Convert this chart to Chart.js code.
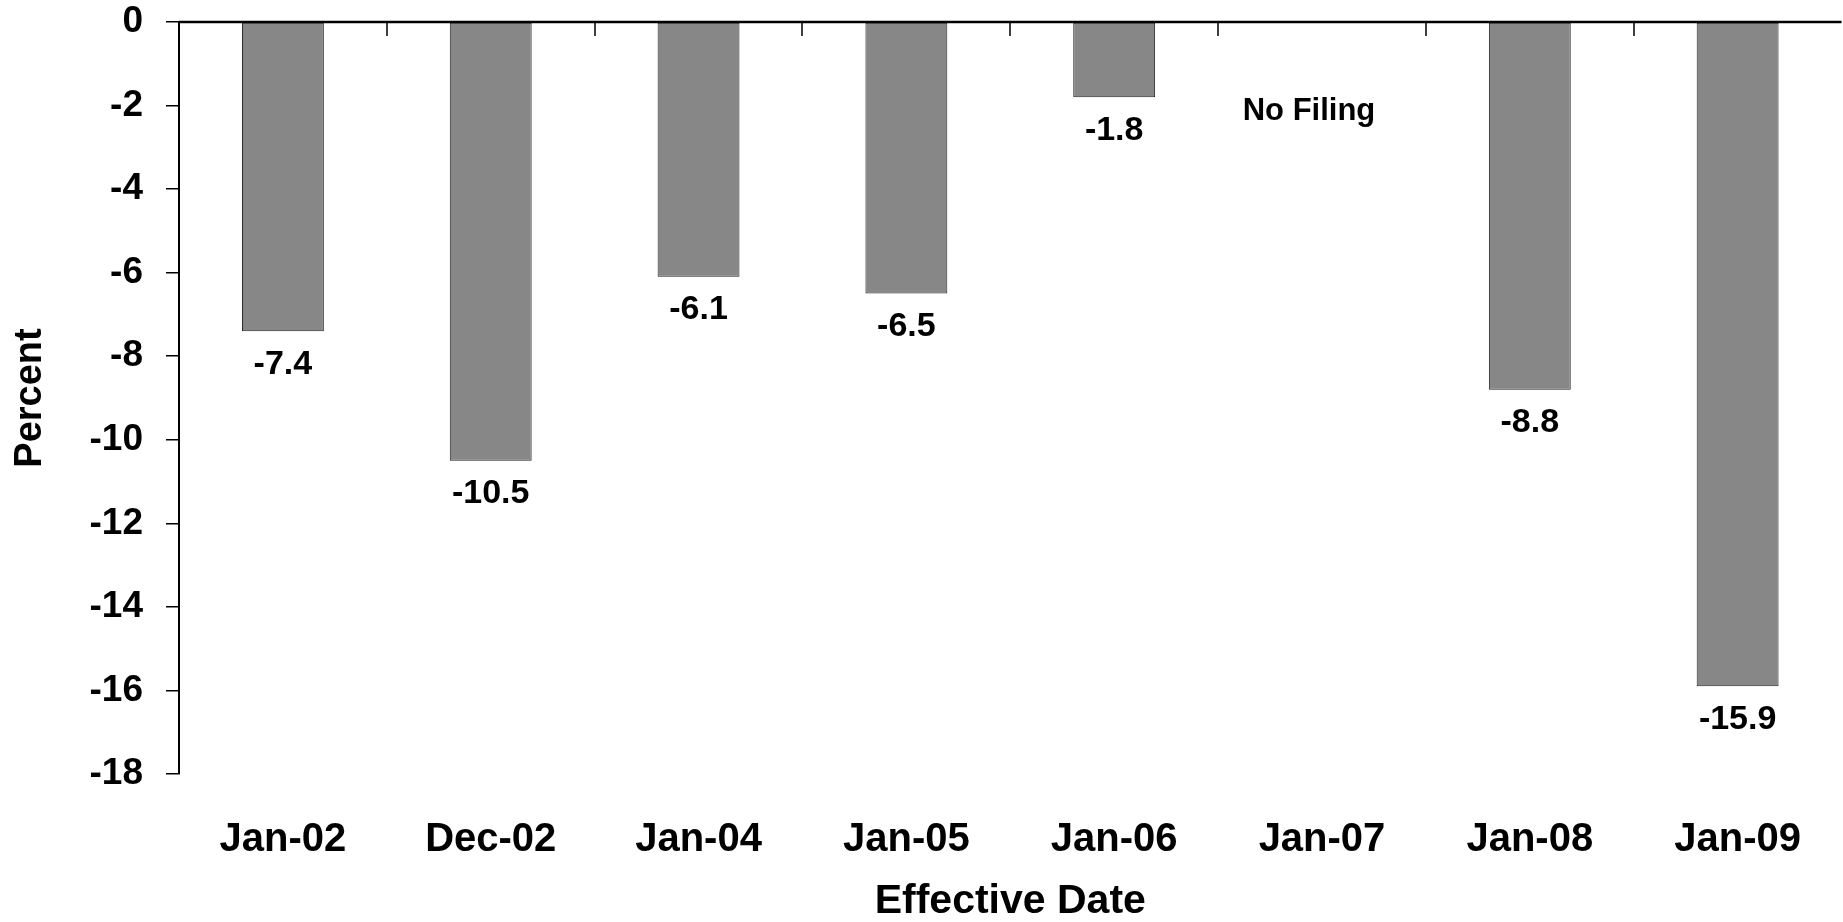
<!DOCTYPE html>
<html>
<head>
<meta charset="utf-8">
<title>Effective Date</title>
<script src="https://cdn.jsdelivr.net/npm/chart.js@4.4.1/dist/chart.umd.min.js"></script>
<style>
  html, body { margin: 0; padding: 0; background: #fff; }
  #wrap { width: 1843px; height: 922px; }
</style>
</head>
<body>
<div id="wrap"><canvas id="rateChart"></canvas></div>
<script>
// Rate change (percent) at each effective date
const categories = ['Jan-02', 'Dec-02', 'Jan-04', 'Jan-05', 'Jan-06', 'Jan-07', 'Jan-08', 'Jan-09'];
const rateChange = [-7.4, -10.5, -6.1, -6.5, -1.8, null, -8.8, -15.9];
const yRange = [-18, 0];
const yStep = 2;
const noFiling = { category: 'Jan-07', text: 'No Filing', level: -2.15 };

const FONT = '"Liberation Sans", Arial, Helvetica, sans-serif';

// ------------------------------------------
// zero line across the top with short ticks between categories
// ------------------------------------------
const zeroLine = {
    id: 'zeroLine',
    afterDraw(chart) {
        const { ctx, chartArea, scales: { x, y } } = chart;
        const y0 = y.getPixelForValue(0);
        ctx.save();
        ctx.strokeStyle = '#000';
        ctx.lineWidth = 2.5;
        ctx.beginPath();
        ctx.moveTo(chartArea.left, y0);
        ctx.lineTo(chartArea.right, y0);
        ctx.stroke();

        ctx.lineWidth = 1.5;
        ctx.beginPath();
        for (let i = 1; i < categories.length; i++) {
            const bx = Math.round((x.getPixelForValue(i - 1) + x.getPixelForValue(i)) / 2);
            ctx.moveTo(bx, y0);
            ctx.lineTo(bx, y0 + 14);
        }
        ctx.stroke();
        ctx.restore();
    }
};

// ------------------------------------------
// value under each bar, plus the note for the missing year
// ------------------------------------------
const valueLabels = {
    id: 'valueLabels',
    afterDatasetsDraw(chart) {
        const { ctx, scales: { x, y } } = chart;
        const meta = chart.getDatasetMeta(0);
        ctx.save();
        ctx.fillStyle = '#000';
        ctx.textAlign = 'center';
        ctx.textBaseline = 'middle';
        ctx.font = 'bold 34px ' + FONT;
        meta.data.forEach((bar, i) => {
            const v = rateChange[i];
            if (v === null) return;
            ctx.fillText(v.toFixed(1), bar.x, bar.y + 33);
        });

        const idx = categories.indexOf(noFiling.category);
        ctx.font = 'bold 31px ' + FONT;
        ctx.fillText(noFiling.text, x.getPixelForValue(idx) - 13, y.getPixelForValue(noFiling.level));
        ctx.restore();
    }
};

const ctx = document.getElementById('rateChart');
new Chart(ctx, {
    type: 'bar',
    data: {
        labels: categories,
        datasets: [{
            data: rateChange,
            backgroundColor: '#878787',
            borderColor: '#222',
            borderWidth: 1,
            borderSkipped: false,
            categoryPercentage: 1,
            barPercentage: 0.394
        }]
    },
    options: {
        responsive: true,
        maintainAspectRatio: false,
        animation: false,
        layout: { padding: 0 },
        scales: {
            x: {
                afterFit(scale) { scale.height = 148; },
                grid: { display: false, drawTicks: false },
                border: { display: false },
                ticks: {
                    color: '#000',
                    font: { family: FONT, size: 40, weight: 'bold' },
                    padding: 42,
                    maxRotation: 0,
                    autoSkip: false
                },
                title: {
                    display: true,
                    text: 'Effective Date',
                    color: '#000',
                    font: { family: FONT, size: 41, weight: 'bold', lineHeight: 1 },
                    padding: { top: 0, bottom: 0 }
                }
            },
            y: {
                min: yRange[0],
                max: yRange[1],
                afterFit(scale) {
                    scale.width = 179;
                    // only half the top label sits above the plot
                    scale.paddingTop = 22;
                },
                ticks: {
                    stepSize: yStep,
                    color: '#000',
                    font: { family: FONT, size: 37, weight: 'bold' },
                    padding: 23
                },
                grid: {
                    drawOnChartArea: false,
                    tickLength: 13,
                    color: '#000',
                    lineWidth: 1.5
                },
                border: { color: '#000', width: 2 },
                title: {
                    display: true,
                    text: 'Percent',
                    color: '#000',
                    font: { family: FONT, size: 38, weight: 'bold' },
                    padding: { top: 8, bottom: 0 }
                }
            }
        },
        plugins: {
            legend: { display: false },
            tooltip: { enabled: false }
        }
    },
    plugins: [zeroLine, valueLabels]
});
</script>
</body>
</html>
